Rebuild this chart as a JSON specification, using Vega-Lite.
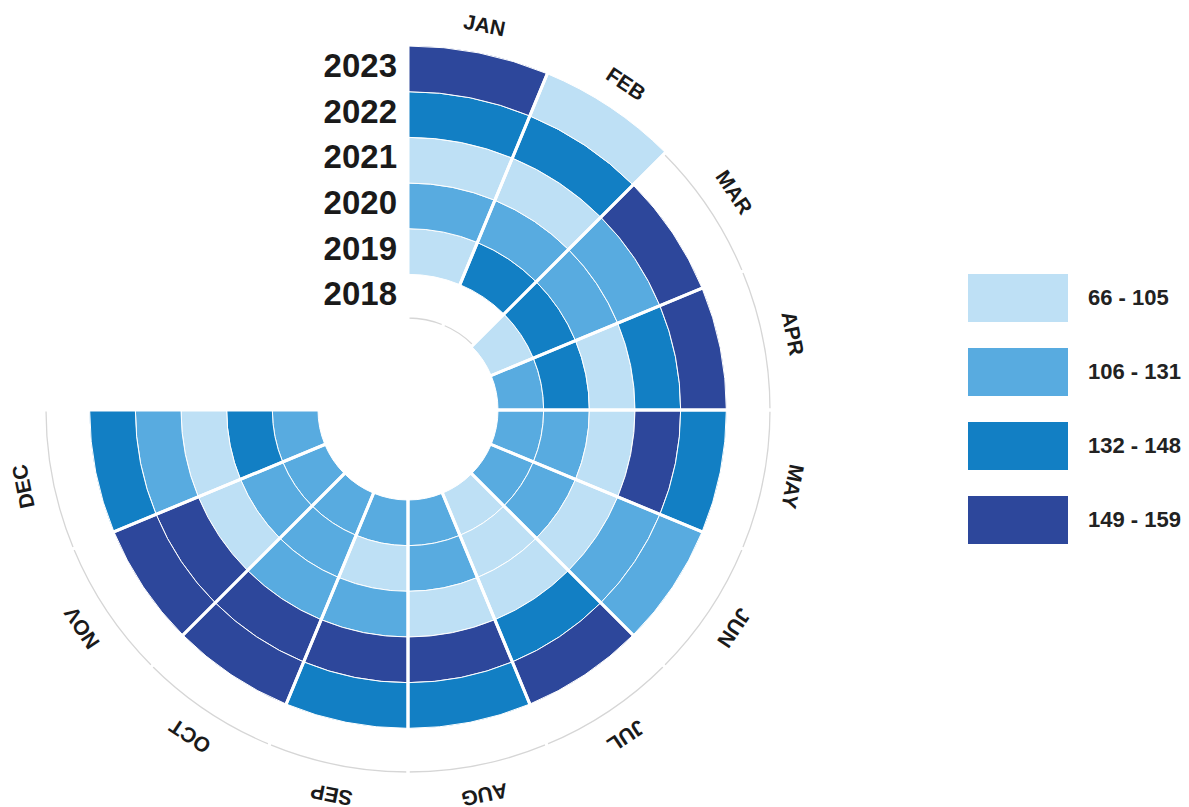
{
  "$schema": "https://vega.github.io/schema/vega-lite/v6.json",
  "width": 816,
  "height": 794,
  "autosize": "none",
  "padding": {"left": 0, "top": 13, "right": 373, "bottom": 0},
  "background": "white",
  "config": {"view": {"stroke": null}},
  "datasets": {
    "cells": [
      {"month": "JAN", "year": "2019", "range": "66 - 105"},
      {"month": "JAN", "year": "2020", "range": "106 - 131"},
      {"month": "JAN", "year": "2021", "range": "66 - 105"},
      {"month": "JAN", "year": "2022", "range": "132 - 148"},
      {"month": "JAN", "year": "2023", "range": "149 - 159"},
      {"month": "FEB", "year": "2019", "range": "132 - 148"},
      {"month": "FEB", "year": "2020", "range": "106 - 131"},
      {"month": "FEB", "year": "2021", "range": "66 - 105"},
      {"month": "FEB", "year": "2022", "range": "132 - 148"},
      {"month": "FEB", "year": "2023", "range": "66 - 105"},
      {"month": "MAR", "year": "2018", "range": "66 - 105"},
      {"month": "MAR", "year": "2019", "range": "132 - 148"},
      {"month": "MAR", "year": "2020", "range": "106 - 131"},
      {"month": "MAR", "year": "2021", "range": "106 - 131"},
      {"month": "MAR", "year": "2022", "range": "149 - 159"},
      {"month": "APR", "year": "2018", "range": "106 - 131"},
      {"month": "APR", "year": "2019", "range": "132 - 148"},
      {"month": "APR", "year": "2020", "range": "66 - 105"},
      {"month": "APR", "year": "2021", "range": "132 - 148"},
      {"month": "APR", "year": "2022", "range": "149 - 159"},
      {"month": "MAY", "year": "2018", "range": "106 - 131"},
      {"month": "MAY", "year": "2019", "range": "106 - 131"},
      {"month": "MAY", "year": "2020", "range": "66 - 105"},
      {"month": "MAY", "year": "2021", "range": "149 - 159"},
      {"month": "MAY", "year": "2022", "range": "132 - 148"},
      {"month": "JUN", "year": "2018", "range": "106 - 131"},
      {"month": "JUN", "year": "2019", "range": "106 - 131"},
      {"month": "JUN", "year": "2020", "range": "66 - 105"},
      {"month": "JUN", "year": "2021", "range": "106 - 131"},
      {"month": "JUN", "year": "2022", "range": "106 - 131"},
      {"month": "JUL", "year": "2018", "range": "66 - 105"},
      {"month": "JUL", "year": "2019", "range": "66 - 105"},
      {"month": "JUL", "year": "2020", "range": "66 - 105"},
      {"month": "JUL", "year": "2021", "range": "132 - 148"},
      {"month": "JUL", "year": "2022", "range": "149 - 159"},
      {"month": "AUG", "year": "2018", "range": "106 - 131"},
      {"month": "AUG", "year": "2019", "range": "106 - 131"},
      {"month": "AUG", "year": "2020", "range": "66 - 105"},
      {"month": "AUG", "year": "2021", "range": "149 - 159"},
      {"month": "AUG", "year": "2022", "range": "132 - 148"},
      {"month": "SEP", "year": "2018", "range": "106 - 131"},
      {"month": "SEP", "year": "2019", "range": "66 - 105"},
      {"month": "SEP", "year": "2020", "range": "106 - 131"},
      {"month": "SEP", "year": "2021", "range": "149 - 159"},
      {"month": "SEP", "year": "2022", "range": "132 - 148"},
      {"month": "OCT", "year": "2018", "range": "106 - 131"},
      {"month": "OCT", "year": "2019", "range": "106 - 131"},
      {"month": "OCT", "year": "2020", "range": "106 - 131"},
      {"month": "OCT", "year": "2021", "range": "149 - 159"},
      {"month": "OCT", "year": "2022", "range": "149 - 159"},
      {"month": "NOV", "year": "2018", "range": "106 - 131"},
      {"month": "NOV", "year": "2019", "range": "106 - 131"},
      {"month": "NOV", "year": "2020", "range": "66 - 105"},
      {"month": "NOV", "year": "2021", "range": "149 - 159"},
      {"month": "NOV", "year": "2022", "range": "149 - 159"},
      {"month": "DEC", "year": "2018", "range": "106 - 131"},
      {"month": "DEC", "year": "2019", "range": "132 - 148"},
      {"month": "DEC", "year": "2020", "range": "66 - 105"},
      {"month": "DEC", "year": "2021", "range": "106 - 131"},
      {"month": "DEC", "year": "2022", "range": "132 - 148"}
    ],
    "months": [
      {"month": "JAN"}, {"month": "FEB"}, {"month": "MAR"}, {"month": "APR"},
      {"month": "MAY"}, {"month": "JUN"}, {"month": "JUL"}, {"month": "AUG"},
      {"month": "SEP"}, {"month": "OCT"}, {"month": "NOV"}, {"month": "DEC"}
    ],
    "years": [
      {"year": "2018"}, {"year": "2019"}, {"year": "2020"},
      {"year": "2021"}, {"year": "2022"}, {"year": "2023"}
    ]
  },
  "layer": [
    {
      "data": {"name": "months"},
      "mark": {"type": "arc", "filled": false, "radius": 362, "radius2": 92, "stroke": "#d6d6d6", "strokeWidth": 1.3},
      "encoding": {
        "theta": {"field": "month", "type": "ordinal",
          "scale": {"type": "band", "domain": ["JAN","FEB","MAR","APR","MAY","JUN","JUL","AUG","SEP","OCT","NOV","DEC"], "range": [0, 4.71238898038469], "paddingInner": 0, "paddingOuter": 0}}
      }
    },
    {
      "data": {"name": "cells"},
      "mark": {"type": "arc", "stroke": "white", "strokeWidth": 1},
      "encoding": {
        "theta": {"field": "month", "type": "ordinal",
          "scale": {"type": "band", "domain": ["JAN","FEB","MAR","APR","MAY","JUN","JUL","AUG","SEP","OCT","NOV","DEC"], "range": [0, 4.71238898038469], "paddingInner": 0, "paddingOuter": 0}},
        "radius": {"field": "year", "type": "ordinal",
          "scale": {"type": "band", "domain": ["2018","2019","2020","2021","2022","2023"], "range": [90, 364], "paddingInner": 0, "paddingOuter": 0}},
        "color": {"field": "range", "type": "nominal",
          "scale": {"domain": ["66 - 105","106 - 131","132 - 148","149 - 159"], "range": ["#bee0f5","#58abe0","#127fc4","#2d479b"]},
          "legend": {
            "title": null,
            "orient": "none",
            "legendX": 968,
            "legendY": 235,
            "padding": 0,
            "symbolType": "M-1,-0.48H1V0.48H-1Z",
            "symbolSize": 10000,
            "symbolStrokeWidth": 0,
            "symbolOpacity": 1,
            "rowPadding": 0,
            "labelOffset": 20,
            "labelFont": "Liberation Sans",
            "labelFontWeight": "bold",
            "labelFontSize": 22,
            "labelColor": "#222222",
            "labelLimit": 300
          }
        }
      }
    },
    {
      "data": {"name": "months"},
      "mark": {"type": "arc", "filled": false, "radius": 368, "radius2": 0, "stroke": "white", "strokeWidth": 3},
      "encoding": {
        "theta": {"field": "month", "type": "ordinal",
          "scale": {"type": "band", "domain": ["JAN","FEB","MAR","APR","MAY","JUN","JUL","AUG","SEP","OCT","NOV","DEC"], "range": [0, 4.71238898038469], "paddingInner": 0, "paddingOuter": 0}}
      }
    },
    {
      "data": {"name": "months"},
      "mark": {"type": "text", "radius": 391, "align": "center", "baseline": "middle", "font": "Liberation Sans", "fontWeight": "bold", "fontSize": 21, "fill": "#1a1a1a"},
      "encoding": {
        "theta": {"field": "month", "type": "ordinal",
          "scale": {"type": "band", "domain": ["JAN","FEB","MAR","APR","MAY","JUN","JUL","AUG","SEP","OCT","NOV","DEC"], "range": [0, 4.71238898038469], "paddingInner": 0, "paddingOuter": 0}},
        "angle": {"field": "month", "type": "ordinal",
          "scale": {"type": "point", "domain": ["JAN","FEB","MAR","APR","MAY","JUN","JUL","AUG","SEP","OCT","NOV","DEC"], "range": [11.25, 258.75], "padding": 0}},
        "text": {"field": "month"}
      }
    },
    {
      "data": {"name": "years"},
      "mark": {"type": "text", "align": "right", "baseline": "middle", "dx": -11, "dy": -2, "font": "Liberation Sans", "fontWeight": "bold", "fontSize": 33, "fill": "#1a1a1a"},
      "encoding": {
        "radius": {"field": "year", "type": "ordinal",
          "scale": {"type": "band", "domain": ["2018","2019","2020","2021","2022","2023"], "range": [90, 364], "paddingInner": 0, "paddingOuter": 0}},
        "text": {"field": "year"}
      }
    }
  ]
}
